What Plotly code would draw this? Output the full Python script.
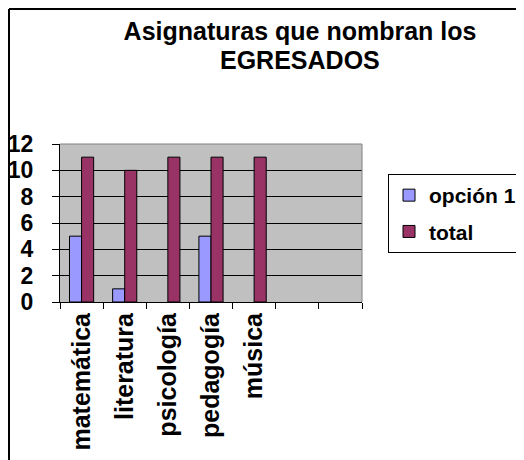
import plotly.graph_objects as go

# datos
categorias = ["matemática", "literatura", "psicología", "pedagogía", "música"]
opcion_1 = [5, 1, None, 5, None]
total = [11, 10, 11, 11, 11]
n_columnas = 7  # Excel deja dos columnas vacías al final
y_ticks = [0, 2, 4, 6, 8, 10, 12]

# la página añade 8px de margen al cuerpo, así que la figura es algo más pequeña
W, H = 516, 452
M_L, M_R, M_T, M_B = 52, 162, 136, 158
plot_w = W - M_L - M_R
plot_h = H - M_T - M_B

FUENTE = "Liberation Sans, Arial, sans-serif"
posiciones = list(range(len(categorias)))

fig = go.Figure()
fig.add_trace(go.Bar(x=posiciones, y=opcion_1, name="opción 1",
                     marker=dict(color="#9999FF", line=dict(color="black", width=1)),
                     legendgroup="a"))
fig.add_trace(go.Bar(x=posiciones, y=total, name="total",
                     marker=dict(color="#993366", line=dict(color="black", width=1)),
                     legendgroup="b"))

fronteras = [i - 0.5 for i in range(n_columnas + 1)]

fig.update_layout(
    width=W, height=H,
    margin=dict(l=M_L, r=M_R, t=M_T, b=M_B, autoexpand=False),
    paper_bgcolor="white",
    plot_bgcolor="#C0C0C0",
    barmode="group",
    bargap=0.44,
    bargroupgap=0,
    font=dict(family=FUENTE, color="black"),
    title=dict(
        text="<b>Asignaturas que nombran los</b>",
        x=292 / W, xref="container", xanchor="center",
        y=1 - 23.5 / H, yref="container", yanchor="middle",
        font=dict(size=25, family=FUENTE),
    ),
    legend=dict(
        x=380 / W, y=1 - 166 / H, xref="container", yref="container",
        xanchor="left", yanchor="top",
        bordercolor="black", borderwidth=1, bgcolor="white",
        font=dict(size=21, family=FUENTE, weight="bold"),
        traceorder="grouped", tracegroupgap=6,
    ),
    showlegend=True,
)

# segunda línea del título
fig.add_annotation(text="<b>EGRESADOS</b>", xref="paper", yref="paper",
                   x=(292 - M_L) / plot_w, y=(H - M_B - 52) / plot_h,
                   xanchor="center", yanchor="middle", showarrow=False,
                   font=dict(size=25, family=FUENTE))

fig.update_xaxes(
    range=[-0.5, n_columnas - 0.5],
    tickvals=posiciones,
    ticktext=[f"<b>{c}</b>" for c in categorias],
    tickangle=-90,
    tickfont=dict(size=25, family=FUENTE),
    ticks="",
    automargin=False,
    showline=True, linecolor="black", linewidth=1,
    showgrid=False, zeroline=False,
    minor=dict(tickvals=fronteras, ticks="outside", ticklen=6, tickcolor="black", showgrid=False),
)
fig.update_yaxes(
    range=[0, 12],
    tickvals=y_ticks,
    tickfont=dict(size=23, family=FUENTE, weight="bold"),
    ticks="outside", ticklen=7, tickcolor="black",
    ticklabelstandoff=14,
    automargin=False,
    showline=True, linecolor="black", linewidth=1,
    showgrid=True, gridcolor="black", gridwidth=1,
    zeroline=False,
)

# borde gris del área de trazado (arriba y derecha)
fig.add_shape(type="line", xref="paper", yref="paper", x0=0, x1=1, y0=1, y1=1,
              line=dict(color="#808080", width=1), layer="above")
fig.add_shape(type="line", xref="paper", yref="paper", x0=1, x1=1, y0=0, y1=1,
              line=dict(color="#808080", width=1), layer="above")

# marco del gráfico (solo visible arriba e izquierda)
fx0 = (1 - M_L) / plot_w
fy1 = (H - M_B - 1) / plot_h
fig.add_shape(type="line", xref="paper", yref="paper", x0=fx0, x1=(W + 5 - M_L) / plot_w,
              y0=fy1, y1=fy1, line=dict(color="black", width=2))
fig.add_shape(type="line", xref="paper", yref="paper", x0=fx0, x1=fx0,
              y0=fy1, y1=-(M_B + 5) / plot_h, line=dict(color="black", width=2))

fig.write_html("out.html")
